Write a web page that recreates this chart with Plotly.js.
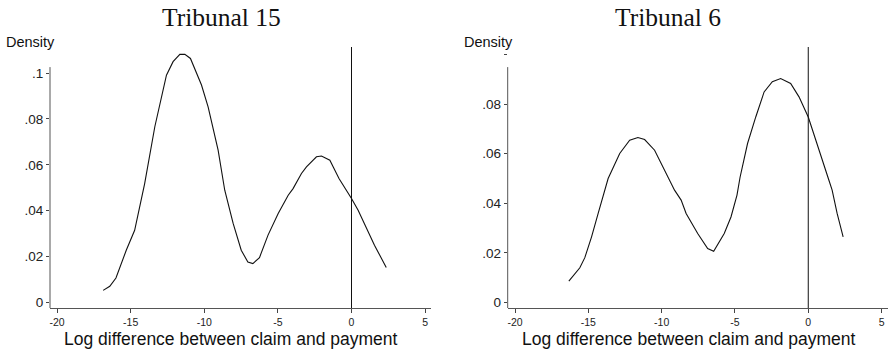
<!DOCTYPE html>
<html>
<head>
<meta charset="utf-8">
<script src="https://cdn.plot.ly/plotly-3.0.1.min.js"></script>
<style>html,body{margin:0;padding:0;background:#fff}#chart{width:889px;height:353px}</style>
</head>
<body>
<div id="chart"></div>
<script>
// Tribunal 15 kernel density
const t15_x = [-16.87,-16.42,-16.0,-15.3,-14.73,-14.05,-13.36,-12.57,-12.12,-11.66,-11.32,-10.94,-10.19,-9.74,-9.06,-8.61,-8.04,-7.49,-7.04,-6.7,-6.25,-5.67,-4.98,-4.3,-3.97,-3.4,-3.06,-2.38,-2.04,-1.47,-0.85,-0.34,0.0,0.45,1.0,1.56,2.36];
const t15_y = [0.0052,0.0070,0.0106,0.0227,0.0314,0.0518,0.0766,0.0991,0.105,0.1082,0.1082,0.1064,0.0948,0.0853,0.0664,0.0489,0.0344,0.0227,0.0176,0.0169,0.0195,0.0293,0.0387,0.0467,0.0496,0.0562,0.0591,0.0635,0.0638,0.0620,0.0540,0.0489,0.0453,0.0402,0.0329,0.0249,0.0152];
// Tribunal 6 kernel density
const t6_x = [-16.33,-15.58,-15.24,-14.78,-14.33,-13.65,-12.86,-12.18,-11.62,-11.16,-10.48,-9.75,-9.12,-8.67,-8.33,-7.54,-6.86,-6.45,-5.73,-5.27,-4.86,-4.65,-4.14,-3.58,-3.01,-2.45,-1.88,-1.2,-0.63,0.0,0.84,1.41,1.63,1.97,2.38];
const t6_y = [0.0086,0.0140,0.0181,0.0265,0.0359,0.0500,0.0601,0.0654,0.0665,0.0657,0.0614,0.0530,0.0453,0.0413,0.0359,0.0278,0.0218,0.0207,0.0278,0.0345,0.0433,0.0505,0.0641,0.0748,0.0849,0.0890,0.0903,0.0883,0.0829,0.0748,0.0601,0.0493,0.0453,0.0359,0.0265];

const xTickVals = [-20,-15,-10,-5,0,5];
const xTickText = ["-20","-15","-10","-5","0","5"];
const yTickVals1 = [0,0.02,0.04,0.06,0.08,0.1];
const yTickText1 = ["0",".02",".04",".06",".08",".1"];
const yTickVals2 = [0,0.02,0.04,0.06,0.08,0.1];
const yTickText2 = ["0",".02",".04",".06",".08",""];
const titles = ["Tribunal 15","Tribunal 6"];
const xTitle = "Log difference between claim and payment";
const yTitle = "Density";

const W = 889, H = 353;
const px = v => v / W;
const py = v => (308 - v) / 261;

const traces = [
  {x: t15_x, y: t15_y, type:'scatter', mode:'lines', line:{color:'#111', width:1.1}, xaxis:'x', yaxis:'y', hoverinfo:'skip'},
  {x: t6_x, y: t6_y, type:'scatter', mode:'lines', line:{color:'#111', width:1.1}, xaxis:'x2', yaxis:'y2', hoverinfo:'skip'}
];

const sans = 'Liberation Sans, Arial, sans-serif';
const serif = 'Liberation Serif, Times New Roman, serif';
function xax(domain, range, anchor){
  return {domain, range, anchor, tickmode:'array', tickvals:xTickVals, ticktext:xTickText,
    ticks:'outside', ticklen:4, tickcolor:'#444', tickwidth:1,
    showline:true, linecolor:'#555', linewidth:1, showgrid:false, zeroline:false,
    tickfont:{family:sans, size:10.5, color:'#222'}};
}
function yax(range, anchor, vals, text){
  return {domain:[0,1], range, anchor, tickmode:'array', tickvals:vals, ticktext:text,
    ticks:'outside', ticklen:3, tickcolor:'#444', tickwidth:1,
    showline:false, showgrid:false, zeroline:false,
    tickfont:{family:sans, size:13.5, color:'#222'}};
}

const layout = {
  width:W, height:H, margin:{l:0, r:0, t:47, b:45},
  paper_bgcolor:'#fff', plot_bgcolor:'#fff', showlegend:false,
  xaxis: xax([px(50), px(431)], [-20.48, 5.4], 'y'),
  yaxis: yax([-0.0025, 0.1114], 'x', yTickVals1, yTickText1),
  xaxis2: xax([px(507.7), px(888)], [-20.5, 5.44], 'y2'),
  yaxis2: yax([-0.0022, 0.103], 'x2', yTickVals2, yTickText2),
  shapes: [
    {type:'line', xref:'x domain', yref:'y domain', x0:0, x1:0, y0:0, y1:0.923, line:{color:'#555', width:1}},
    {type:'line', xref:'x2 domain', yref:'y2 domain', x0:0, x1:0, y0:0, y1:0.923, line:{color:'#555', width:1}},
    {type:'line', xref:'x', yref:'y domain', x0:0, x1:0, y0:0, y1:1, line:{color:'#111', width:1}},
    {type:'line', xref:'x2', yref:'y2 domain', x0:0, x1:0, y0:0, y1:1, line:{color:'#111', width:1}}
  ],
  annotations: [
    {text:titles[0], xref:'paper', yref:'paper', x:px(221), y:py(17.5), xanchor:'center', yanchor:'middle', showarrow:false, font:{family:serif, size:25.5, color:'#111'}},
    {text:titles[1], xref:'paper', yref:'paper', x:px(668), y:py(17.5), xanchor:'center', yanchor:'middle', showarrow:false, font:{family:serif, size:25.5, color:'#111'}},
    {text:yTitle, xref:'paper', yref:'paper', x:px(4), y:py(42), xanchor:'left', yanchor:'middle', showarrow:false, font:{family:sans, size:14.5, color:'#111'}},
    {text:yTitle, xref:'paper', yref:'paper', x:px(462), y:py(42), xanchor:'left', yanchor:'middle', showarrow:false, font:{family:sans, size:14.5, color:'#111'}},
    {text:xTitle, xref:'paper', yref:'paper', x:px(231), y:py(339), xanchor:'center', yanchor:'middle', showarrow:false, font:{family:sans, size:17.5, color:'#111'}},
    {text:xTitle, xref:'paper', yref:'paper', x:px(689), y:py(339), xanchor:'center', yanchor:'middle', showarrow:false, font:{family:sans, size:17.5, color:'#111'}}
  ]
};

Plotly.newPlot('chart', traces, layout, {displayModeBar:false, staticPlot:true});
</script>
</body>
</html>
